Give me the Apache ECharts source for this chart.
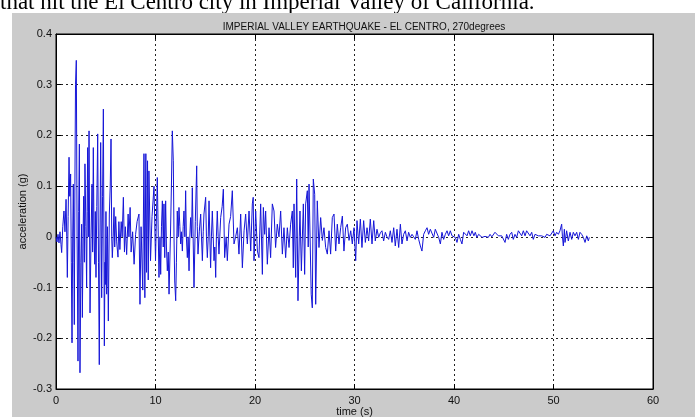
<!DOCTYPE html>
<html>
<head>
<meta charset="utf-8">
<script src="https://cdn.jsdelivr.net/npm/echarts@6/dist/echarts.min.js"></script>
<style>
html,body{margin:0;padding:0;background:#fff;}
#chart{width:695px;height:417px;}
</style>
</head>
<body>
<div id="chart"></div>
<script>
// Axis ticks
const xTicks = [0, 10, 20, 30, 40, 50, 60];
const yTicks = [-0.3, -0.2, -0.1, 0, 0.1, 0.2, 0.3, 0.4];

// Ground acceleration (g) vs time (s), read from the record, in segments
const onsetPhase = [
  [0.0,0.0],[0.1,-0.01],[0.2,0.005],[0.3,-0.012],[0.4,0.01],[0.5,-0.015],[0.57,-0.031],[0.68,0.02],[0.8,0.051],[0.9,0.01],
  [1.01,0.074],[1.08,0.0],[1.14,-0.08],[1.22,0.04],[1.31,0.157],[1.38,0.08],[1.47,0.124],[1.54,-0.05],[1.61,-0.209],[1.68,0.0],
  [1.74,0.104],[1.8,-0.05],[1.84,-0.173],[1.9,0.1],[1.96,0.3],[2.04,0.348],[2.12,0.0],[2.21,-0.245],[2.28,0.05],[2.35,0.183],
  [2.41,-0.268],[2.5,-0.05],[2.58,0.025],[2.65,-0.159],[2.72,0.0],[2.78,0.08],[2.85,-0.05],[2.91,0.144],[3.0,0.02],[3.08,-0.1],
  [3.13,0.05],[3.18,0.176],[3.25,0.0],[3.32,0.209],[3.42,-0.15],[3.52,0.0],[3.62,0.104],[3.68,-0.03],[3.75,0.176],[3.82,0.0],
  [3.89,-0.054],[3.95,0.05],[4.02,-0.08],[4.1,0.06],[4.19,0.203],[4.27,-0.05],[4.35,-0.252],[4.42,0.0],[4.49,0.186],[4.59,-0.12],
  [4.68,0.08],[4.76,0.252],[4.86,-0.215],[4.92,-0.05],[4.96,-0.094],[5.02,0.05],[5.09,-0.113],[5.17,0.02],[5.26,-0.166],[5.36,0.045],
  [5.45,0.1],[5.53,0.193],[5.6,0.0],[5.66,-0.041]
];
const earlyPhase = [
  [5.75,0.0],[5.83,0.058],[5.9,-0.02],[6.0,0.04],[6.1,-0.01],[6.23,-0.04],[6.32,0.03],[6.42,-0.025],[6.55,0.03],[6.65,0.0],
  [6.77,0.078],[6.88,-0.03],[6.97,0.02],[7.1,-0.035],[7.25,0.045],[7.33,0.0],[7.45,0.058],[7.55,-0.03],[7.7,0.01],[7.85,-0.054],
  [8.0,0.005],[8.15,0.03],[8.34,0.045],[8.44,-0.133],[8.55,0.02],[8.72,-0.105],[8.84,0.164],[8.93,-0.12],[9.03,0.164],[9.1,-0.07],
  [9.2,0.15],[9.27,-0.085],[9.34,0.13],[9.5,-0.047],[9.65,0.04],[9.85,0.1],[10.0,-0.047]
];
const middlePhase = [
  [10.18,0.117],[10.35,-0.08],[10.45,0.0],[10.52,-0.074],[10.6,0.02],[10.69,0.071],[10.78,-0.02],[10.85,0.065],[10.93,-0.041],[11.02,0.071],
  [11.1,-0.02],[11.19,-0.067],[11.28,-0.03],[11.36,-0.113],[11.5,0.0],[11.6,0.1],[11.69,0.209],[11.79,0.15],[11.86,0.0],[11.93,-0.087],
  [12.03,-0.126],[12.1,-0.05],[12.19,0.051],[12.28,0.0],[12.36,0.058],[12.45,0.02],[12.53,-0.014],[12.6,0.01],[12.7,-0.028],[12.78,0.02],
  [12.86,0.051],[12.95,0.0],[13.03,0.091],[13.1,0.0],[13.2,-0.041],[13.28,0.0],[13.37,-0.067],[13.45,0.0],[13.53,0.038],[13.62,0.0],
  [13.7,0.097],[13.78,0.0],[13.87,-0.1],[14.0,0.03],[14.14,0.14],[14.2,0.02],[14.27,-0.034],[14.4,0.01],[14.54,0.045],[14.62,0.0],
  [14.71,-0.047],[14.8,0.01],[14.87,0.045],[15.04,0.078],[15.12,0.0],[15.21,-0.041],[15.3,0.0],[15.38,0.071],[15.46,0.0],[15.54,-0.061],
  [15.62,0.0],[15.71,0.051],[15.8,0.0],[15.88,-0.047],[15.96,-0.02],[16.05,-0.08],[16.12,0.0],[16.21,0.051],[16.3,0.0],[16.38,-0.034],
  [16.46,0.0],[16.55,0.038],[16.7,0.06],[16.82,0.094],[16.95,-0.041],[17.1,0.0],[17.22,-0.047],[17.39,0.025],[17.55,0.04],[17.72,0.091],
  [17.89,-0.014],[18.05,0.0],[18.23,0.018],[18.39,-0.034],[18.56,0.045],[18.73,-0.061],[18.9,0.012],[19.06,0.045],[19.23,-0.014],[19.4,0.051],
  [19.57,-0.028],[19.73,0.065],[19.82,0.078],[19.9,-0.047],[20.07,0.051],[20.24,-0.028]
];
const latePulse = [
  [20.4,-0.041],[20.57,0.065],[20.74,-0.074],[20.84,0.058],[20.97,0.005],[21.07,0.051],[21.24,-0.054],[21.41,0.018],[21.57,-0.041],[21.74,0.065],
  [21.91,0.051],[22.07,-0.021],[22.24,0.025],[22.41,0.0],[22.58,0.051],[22.75,-0.034],[22.91,0.018],[23.08,-0.041],[23.25,0.018],[23.42,-0.021],
  [23.58,0.025],[23.75,0.051],[23.85,-0.061],[23.92,0.065],[24.09,-0.08],[24.19,0.114],[24.32,-0.126],[24.45,0.0],[24.52,0.051],[24.66,-0.067],
  [24.86,0.065],[24.99,-0.074],[25.09,0.065],[25.26,0.091],[25.35,-0.02],[25.43,0.104],[25.59,0.101],[25.65,-0.113],[25.76,-0.14],[25.86,0.114],
  [26.0,0.084],[26.1,-0.133],[26.26,0.071],[26.43,-0.021],[26.6,0.038],[26.77,-0.007],[26.93,0.018],[27.1,-0.021],[27.27,-0.034],[27.44,0.012],
  [27.6,-0.034],[27.77,0.038],[27.94,0.045],[28.11,-0.028],[28.27,0.025],[28.44,-0.014],[28.61,0.018],[28.78,0.041],[28.94,-0.028],[29.11,0.018],
  [29.28,0.025],[29.45,-0.007],[29.62,0.012],[29.78,-0.014],[29.95,0.018],[30.12,-0.047]
];
const codaEarly = [
  [30.25,0.032],[30.42,-0.014],[30.59,0.035],[30.75,-0.021],[30.92,0.032],[31.09,-0.011],[31.26,0.018],[31.42,-0.008],[31.59,0.035],[31.76,-0.014],
  [31.93,0.032],[32.09,-0.008],[32.26,0.015],[32.43,-0.001],[32.6,0.008],[32.76,0.012],[32.93,-0.008],[33.1,0.009],[33.26,0.0],[33.43,-0.005],
  [33.6,0.012],[33.77,-0.011],[33.94,0.018],[34.1,-0.018],[34.27,0.015],[34.44,-0.021],[34.61,0.025],[34.77,-0.014],[34.94,0.005],[35.11,0.012],
  [35.28,-0.008],[35.44,0.009],[35.61,-0.001],[35.78,0.005],[35.95,0.0],[36.11,-0.005],[36.28,0.012],[36.45,-0.005],[36.62,-0.018],[36.78,-0.028],
  [36.95,0.005],[37.12,0.012],[37.29,0.018],[37.45,0.005],[37.62,0.015],[37.79,0.012],[37.96,-0.001],[38.12,0.015],[38.29,0.012],[38.46,-0.001],
  [38.63,-0.014],[38.79,0.009],[38.96,-0.005],[39.13,0.005],[39.3,0.012],[39.46,0.002],[39.63,0.012],[39.8,0.002],[39.97,0.005],[40.13,-0.001],
  [40.3,-0.011],[40.47,0.005],[40.64,-0.005],[40.8,-0.014],[40.97,0.009],[41.14,0.009],[41.31,0.002],[41.47,0.012],[41.64,0.002],[41.81,0.012],
  [42.0,0.002],[42.14,0.009],[42.3,-0.001],[42.48,0.005],[42.82,-0.001]
];
const codaLate = [
  [43.12,0.001],[43.3,-0.001],[43.45,-0.001],[43.62,0.005],[43.8,0.0],[43.95,0.002],[44.12,0.009],[44.29,0.011],[44.46,0.002],[44.62,0.005],
  [44.8,0.002],[44.96,-0.001],[45.13,-0.011],[45.29,0.005],[45.46,-0.005],[45.63,0.005],[45.8,0.009],[45.96,-0.005],[46.13,0.005],[46.3,-0.001],
  [46.47,0.012],[46.63,0.015],[46.8,0.002],[46.97,0.012],[47.14,0.002],[47.3,0.012],[47.47,0.009],[47.64,0.002],[47.81,0.009],[47.97,-0.005],
  [48.14,0.005],[48.31,0.002],[48.48,0.002],[48.65,0.0],[48.81,0.002],[49.0,-0.001],[49.15,-0.001],[49.31,0.005],[49.48,0.005],[49.65,0.002],
  [49.82,0.005],[49.98,0.012],[50.15,0.002],[50.32,0.009],[50.49,0.005],[50.65,0.012],[50.82,0.025],[50.9,0.0],[50.99,-0.018],[51.09,0.015],
  [51.16,-0.011],[51.32,0.012],[51.49,-0.008],[51.66,0.009],[51.83,-0.005],[51.99,0.009],[52.16,0.002],[52.33,0.009],[52.5,-0.005],[52.66,0.009],
  [52.83,0.005],[53.0,-0.001],[53.17,-0.011],[53.34,0.002],[53.5,-0.008],[53.6,-0.001]
];

const record = [].concat(onsetPhase, earlyPhase, middlePhase, latePulse, codaEarly, codaLate);

const SANS = "'Liberation Sans', Arial, sans-serif";
const fmt = v => String(parseFloat(Number(v).toFixed(1)));

const chart = echarts.init(document.getElementById('chart'), null, {renderer: 'canvas'});
const gridLine = {show: true, lineStyle: {color: '#222', width: 1, type: [2, 3]}};
const tickIn = {show: true, inside: true, length: 5, lineStyle: {color: '#000'}};

chart.setOption({
  animation: false,
  backgroundColor: '#cbcbcb',
  title: {
    text: 'IMPERIAL VALLEY EARTHQUAKE - EL CENTRO, 270degrees',
    left: 359, top: 17, textAlign: 'center',
    textStyle: {fontFamily: SANS, fontSize: 10, fontWeight: 'normal', color: '#111'}
  },
  graphic: [
    {type: 'rect', shape: {x: 0, y: 0, width: 695, height: 13}, style: {fill: '#fff'}, silent: true, z: 0},
    {type: 'rect', shape: {x: 0, y: 0, width: 12, height: 417}, style: {fill: '#fff'}, silent: true, z: 0},
    {type: 'text', x: 0, y: 3, silent: true, z: 0,
     style: {text: 'that hit the El Centro city in Imperial Valley of California.',
             font: "23px 'Liberation Serif', 'Times New Roman', serif", fill: '#000',
             align: 'left', verticalAlign: 'middle'}},
    {type: 'rect', shape: {x: 12, y: 13, width: 683, height: 4}, style: {fill: '#cbcbcb'}, silent: true, z: 1}
  ],
  grid: {left: 56, right: 42, top: 34, bottom: 28, outerBoundsMode: 'none', containLabel: false,
         show: true, backgroundColor: '#fff', borderColor: '#000', borderWidth: 1},
  xAxis: [
    {type: 'value', min: xTicks[0], max: xTicks[xTicks.length - 1], interval: 10, position: 'bottom',
     name: 'time (s)', nameLocation: 'middle', nameGap: 17, nameMoveOverlap: false,
     nameTextStyle: {fontFamily: SANS, fontSize: 11, color: '#111'},
     axisLine: {show: true, onZero: false, lineStyle: {color: '#000'}}, axisTick: tickIn,
     axisLabel: {margin: 6, fontFamily: SANS, fontSize: 11, color: '#111'},
     splitLine: gridLine},
    {type: 'value', min: xTicks[0], max: xTicks[xTicks.length - 1], interval: 10, position: 'top',
     axisLine: {show: true, onZero: false, lineStyle: {color: '#000'}}, axisTick: tickIn, axisLabel: {show: false}, splitLine: {show: false}}
  ],
  yAxis: [
    {type: 'value', min: yTicks[0], max: yTicks[yTicks.length - 1], interval: 0.1, position: 'left',
     name: 'acceleration (g)', nameLocation: 'middle', nameGap: 28, nameRotate: 90, nameMoveOverlap: false,
     nameTextStyle: {fontFamily: SANS, fontSize: 11, color: '#111'},
     axisLine: {show: true, onZero: false, lineStyle: {color: '#000'}}, axisTick: tickIn,
     axisLabel: {margin: 4, fontFamily: SANS, fontSize: 11, color: '#111', formatter: fmt},
     splitLine: gridLine},
    {type: 'value', min: yTicks[0], max: yTicks[yTicks.length - 1], interval: 0.1, position: 'right',
     axisLine: {show: true, onZero: false, lineStyle: {color: '#000'}}, axisTick: tickIn, axisLabel: {show: false}, splitLine: {show: false}}
  ],
  series: [{
    type: 'line', xAxisIndex: 0, yAxisIndex: 0, data: record,
    showSymbol: false, symbol: 'none', sampling: null,
    lineStyle: {color: '#1515d8', width: 1}
  }]
});
</script>
</body>
</html>
